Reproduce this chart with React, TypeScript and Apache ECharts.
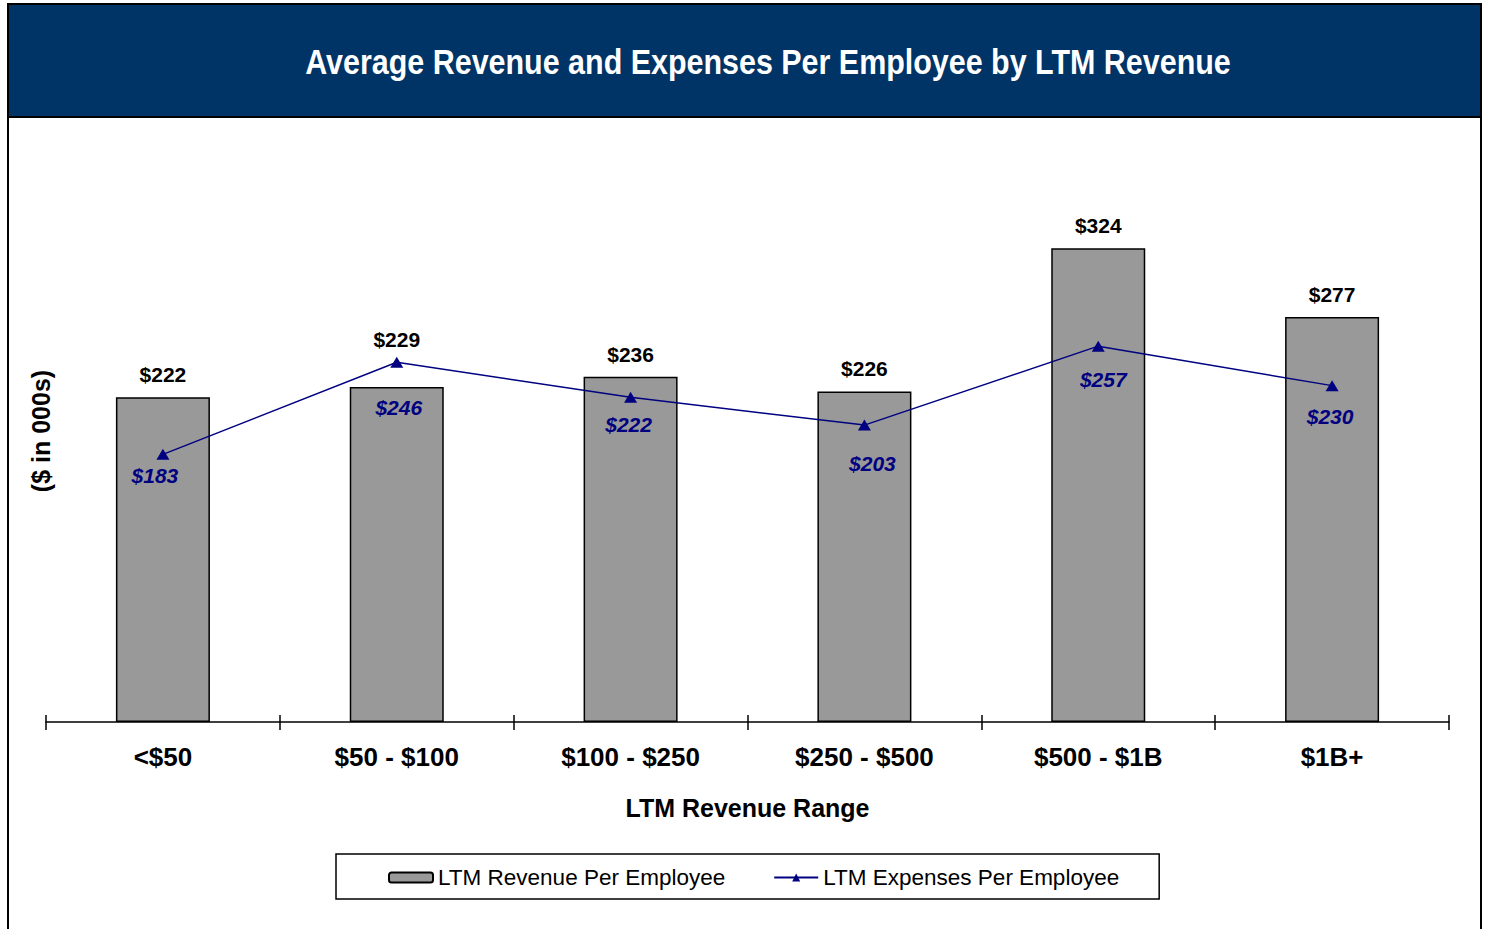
import React, { useEffect, useRef } from "react";
import * as echarts from "echarts";

const categories = ["<$50", "$50 - $100", "$100 - $250", "$250 - $500", "$500 - $1B", "$1B+"];
const revenuePerEmployee = [222, 229, 236, 226, 324, 277];
const expensesPerEmployee = [183, 246, 222, 203, 257, 230];
const titleText = "Average Revenue and Expenses Per Employee by LTM Revenue";
const seriesNames = ["LTM Revenue Per Employee", "LTM Expenses Per Employee"];
const xAxisName = "LTM Revenue Range";
const yAxisName = "($ in 000s)";

const FONT = "'Liberation Sans', Arial, Helvetica, sans-serif";

// label nudges (styling only) for the expense labels, as placed in the reference
const expenseLabelNudge: [number, number][] = [
  [-8, 0],
  [2, 24],
  [-2, 6],
  [8, 17],
  [5, 12],
  [-2, 10],
];

const PX_PER_UNIT = 585 / 400;

export default function App() {
  const ref = useRef<HTMLDivElement>(null);
  useEffect(() => {
    if (!ref.current) return;
    const chart = echarts.init(ref.current, null, { renderer: "svg" });

    const barData = revenuePerEmployee.map((v, i) => {
      const e = expensesPerEmployee[i];
      if (e > v) {
        return { value: v, label: { distance: Math.round((e - v) * PX_PER_UNIT) + 12 } };
      }
      return { value: v };
    });
    const lineData = expensesPerEmployee.map((v, i) => ({
      value: v,
      label: { offset: expenseLabelNudge[i] },
    }));

    chart.setOption({
      animation: false,
      backgroundColor: "#ffffff",
      textStyle: { fontFamily: FONT },
      graphic: [
        {
          type: "rect",
          shape: { x: 8, y: 4, width: 1473, height: 940 },
          style: { fill: "none", stroke: "#000000", lineWidth: 2 },
          z: 0,
        },
        {
          type: "rect",
          shape: { x: 8, y: 4, width: 1473, height: 113 },
          style: { fill: "#003366", stroke: "#000000", lineWidth: 2 },
          z: 1,
        },
        {
          type: "text",
          x: 768,
          y: 62,
          scaleX: 0.87,
          z: 2,
          style: {
            text: titleText,
            fill: "#ffffff",
            font: `bold 35px ${FONT}`,
            textAlign: "center",
            textVerticalAlign: "middle",
          },
        },
        {
          type: "text",
          x: 41,
          y: 431,
          rotation: Math.PI / 2,
          z: 2,
          style: {
            text: yAxisName,
            fill: "#000000",
            font: `bold 25px ${FONT}`,
            textAlign: "center",
            textVerticalAlign: "middle",
          },
        },
      ],
      grid: { left: 46, right: 36, top: 137, bottom: 207, containLabel: false },
      legend: {
        left: 336,
        top: 854,
        orient: "horizontal",
        itemWidth: 44,
        itemHeight: 10,
        itemGap: 48,
        padding: [12, 40, 10, 52],
        borderColor: "#000000",
        borderWidth: 1.5,
        textStyle: { fontSize: 22.5, color: "#000000", fontFamily: FONT },
        data: seriesNames,
      },
      xAxis: [
        {
          type: "category",
          data: categories,
          position: "bottom",
          boundaryGap: true,
          axisLine: { show: true, lineStyle: { color: "#000000", width: 1.5 } },
          axisTick: { show: true, length: 8, inside: false, lineStyle: { color: "#000000", width: 1.5 } },
          axisLabel: { margin: 22, fontSize: 26, fontWeight: "bold", color: "#000000", fontFamily: FONT },
          name: xAxisName,
          nameLocation: "middle",
          nameGap: 73,
          nameTextStyle: { fontSize: 25, fontWeight: "bold", color: "#000000", fontFamily: FONT },
        },
        {
          type: "category",
          data: categories,
          position: "bottom",
          boundaryGap: true,
          axisLine: { show: false },
          axisTick: { show: true, length: 7, inside: true, lineStyle: { color: "#000000", width: 1.5 } },
          axisLabel: { show: false },
        },
      ],
      yAxis: {
        type: "value",
        min: 0,
        max: 400,
        show: false,
        splitLine: { show: false },
      },
      series: [
        {
          name: seriesNames[0],
          type: "bar",
          data: barData,
          barWidth: 94,
          itemStyle: { color: "#999999", borderColor: "#000000", borderWidth: 1.5 },
          label: {
            show: true,
            position: "top",
            distance: 12,
            formatter: (p: any) => "$" + p.value,
            fontSize: 21,
            fontWeight: "bold",
            color: "#000000",
            fontFamily: FONT,
          },
          z: 2,
        },
        {
          name: seriesNames[1],
          type: "line",
          data: lineData,
          symbol: "triangle",
          symbolSize: [13, 11],
          lineStyle: { color: "#000080", width: 1.5 },
          itemStyle: { color: "#000080" },
          label: {
            show: true,
            position: "bottom",
            distance: 5,
            formatter: (p: any) => "$" + p.value,
            fontSize: 21,
            fontWeight: "bold",
            fontStyle: "italic",
            color: "#000080",
            fontFamily: FONT,
          },
          z: 3,
        },
      ],
    });
    return () => chart.dispose();
  }, []);
  return (
    <div
      ref={ref}
      style={{ position: "absolute", left: 0, top: 0, width: 1485, height: 929 }}
    />
  );
}
